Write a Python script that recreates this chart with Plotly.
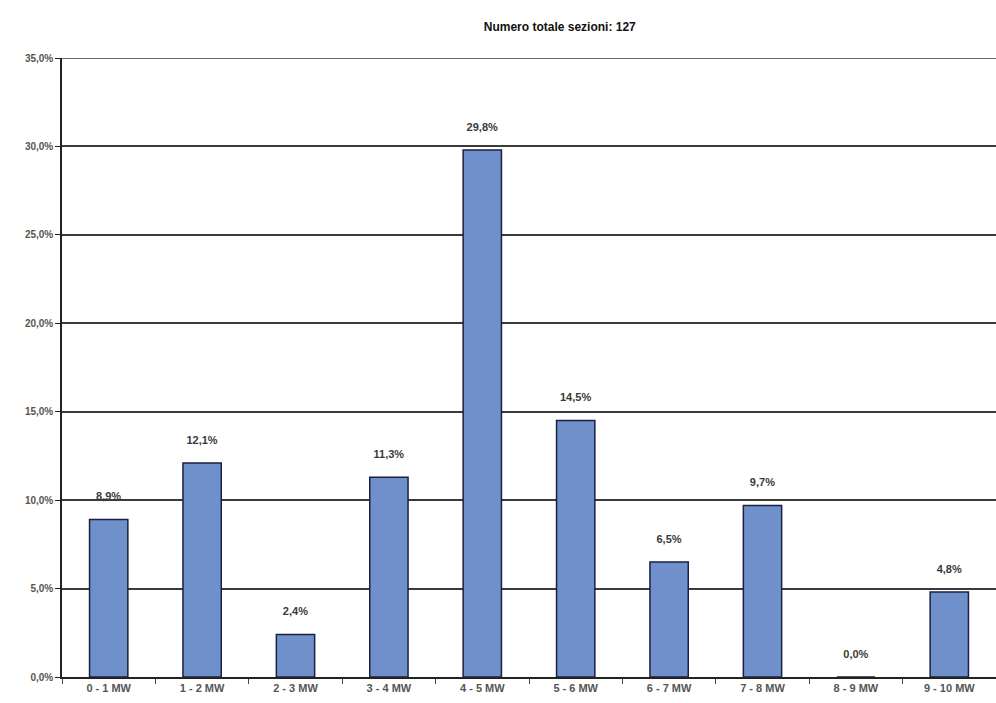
import plotly.graph_objects as go

categories = ["0 - 1 MW", "1 - 2 MW", "2 - 3 MW", "3 - 4 MW", "4 - 5 MW",
              "5 - 6 MW", "6 - 7 MW", "7 - 8 MW", "8 - 9 MW", "9 - 10 MW"]
values = [8.9, 12.1, 2.4, 11.3, 29.8, 14.5, 6.5, 9.7, 0.0, 4.8]
y_ticks = [0, 5, 10, 15, 20, 25, 30, 35]
y_tick_labels = ["0,0%", "5,0%", "10,0%", "15,0%", "20,0%", "25,0%", "30,0%", "35,0%"]
title_text = "Numero totale sezioni: 127"

fig = go.Figure(go.Bar(
    x=categories, y=values,
    marker=dict(color="#7090cc", line=dict(color="#1a2040", width=1.5)),
    texttemplate="<b>%{y:.1f}%</b><br> ", textposition="outside",
    textfont=dict(family="Liberation Sans", size=11, color="#3a3a3a"),
    cliponaxis=False,
))

fig.update_layout(
    width=996, height=703,
    margin=dict(l=62, r=0, t=58, b=26),
    paper_bgcolor="white", plot_bgcolor="white",
    separators=",.",
    bargap=0.59,
    showlegend=False,
    font=dict(family="Liberation Sans", color="#333333"),
    title=dict(text="<b>" + title_text + "</b>", x=0.562, xanchor="center",
               y=0.962, yanchor="middle",
               font=dict(family="Liberation Sans", size=12, color="#111111")),
    shapes=[dict(type="line", xref="paper", yref="y", x0=0, x1=1, y0=35, y1=35,
                 line=dict(color="#3a3a3a", width=1.5))],
)
fig.update_yaxes(
    range=[0, 35], tickvals=y_ticks, ticktext=["<b>" + t + "</b>" for t in y_tick_labels],
    showgrid=True, gridcolor="#3a3a3a", gridwidth=1.5,
    showline=True, linecolor="#222222", linewidth=1.5,
    ticks="outside", ticklen=5, tickcolor="#222222",
    tickfont=dict(family="Liberation Sans", size=10, color="#555555"),
    zeroline=False,
)
fig.update_xaxes(
    showline=True, linecolor="#222222", linewidth=1.5,
    ticks="outside", tickson="boundaries", ticklen=5, tickcolor="#444444",
    tickvals=categories, ticktext=["<b>" + c + "</b>" for c in categories],
    tickfont=dict(family="Liberation Sans", size=11, color="#555555"),
)

fig.write_html("out.html")
